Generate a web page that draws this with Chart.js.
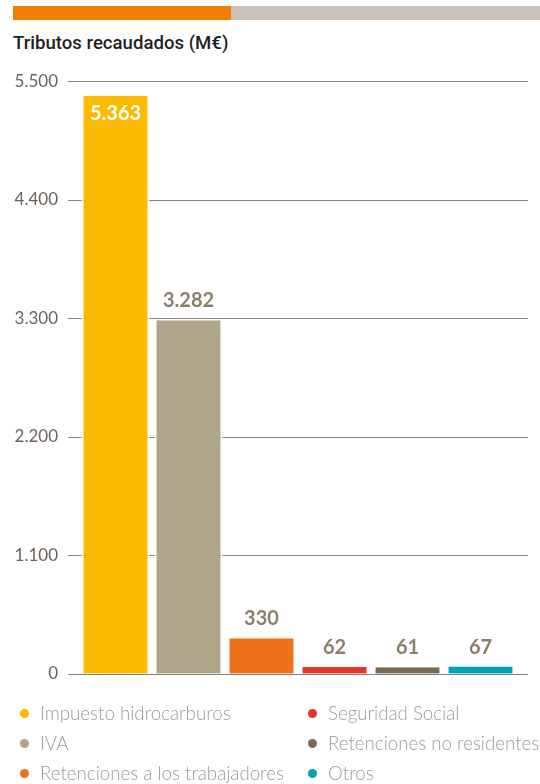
<!DOCTYPE html>
<html>
<head>
<meta charset="utf-8">
<script src="https://cdn.jsdelivr.net/npm/chart.js@4"></script>
<style>
  html, body { margin: 0; padding: 0; background: #fff; }
  body { width: 540px; height: 784px; position: relative; overflow: hidden; font-family: Lato, "Open Sans", sans-serif; }
  .topbar { position: absolute; top: 6px; height: 14px; }
  .title { position: absolute; left: 13px; top: 32px; font: 500 18.6px Roboto, sans-serif; color: #1f1f1f; }
  #wrap { position: absolute; left: 0; top: 50px; width: 540px; height: 655px; }
  .leg { position: absolute; font: 300 18.7px Lato, sans-serif; color: #a39990; white-space: nowrap; line-height: 22px; }
  .leg i { position: absolute; left: -20px; top: 7px; width: 9px; height: 9px; border-radius: 50%; }
</style>
</head>
<body>
<div class="topbar" style="left:13px;width:218px;background:#f07f00"></div>
<div class="topbar" style="left:231px;width:309px;background:#c9c1b9"></div>
<div class="title">Tributos recaudados (M€)</div>
<div id="wrap"><canvas id="chart"></canvas></div>
<div id="legend"></div>
<script>
const categories = ["Impuesto hidrocarburos", "IVA", "Retenciones a los trabajadores", "Seguridad Social", "Retenciones no residentes", "Otros"];
const values = [5363, 3282, 330, 62, 61, 67];
const barColors = ["#fbb900", "#b0a58a", "#ee7219", "#e63323", "#7a6b57", "#00a3b4"];
const Y_MIN = 0;
const Y_MAX = 5500;
const Y_STEP = 1100;

const fmt = (v) => String(v).replace(/\B(?=(\d{3})+(?!\d))/g, ".");

const gridLines = {
  id: "gridLines",
  beforeDatasetsDraw(chart) {
    const { ctx, chartArea, scales } = chart;
    ctx.save();
    ctx.strokeStyle = "#8f8580";
    ctx.lineWidth = 1;
    scales.y.ticks.forEach((t) => {
      const y = Math.round(scales.y.getPixelForValue(t.value)) + 0.5;
      ctx.beginPath();
      ctx.moveTo(chartArea.left - 11, y);
      ctx.lineTo(chartArea.right + 11, y);
      ctx.stroke();
    });
    ctx.restore();
  },
};

const valueLabels = {
  id: "valueLabels",
  afterDatasetsDraw(chart) {
    const { ctx, chartArea } = chart;
    ctx.save();
    ctx.font = "bold 20px Lato, sans-serif";
    ctx.textAlign = "center";
    chart.getDatasetMeta(0).data.forEach((bar, i) => {
      let y = bar.y - 13;
      ctx.fillStyle = "#8b7f6c";
      if (y - 16 < chartArea.top) {
        y = bar.y + 24;
        ctx.fillStyle = "#fff";
      }
      ctx.fillText(fmt(values[i]), bar.x, y);
    });
    ctx.restore();
  },
};

new Chart(document.getElementById("chart"), {
  type: "bar",
  data: {
    labels: categories,
    datasets: [{
      data: values,
      backgroundColor: barColors,
      borderColor: "#fff",
      borderWidth: { left: 2, right: 2, top: 0, bottom: 0 },
      borderSkipped: false,
      categoryPercentage: 1,
      barPercentage: 0.93,
    }],
  },
  options: {
    responsive: true, maintainAspectRatio: false, animation: false,
    layout: { padding: { top: 0, right: 23, bottom: 0, left: 0 } },
    plugins: { legend: { display: false }, tooltip: { enabled: false } },
    scales: {
      x: { display: false },
      y: {
        min: Y_MIN, max: Y_MAX,
        border: { display: false },
        grid: { display: false, drawTicks: false },
        ticks: { stepSize: Y_STEP, padding: 21, color: "#6d625c", font: { family: "Lato", size: 17 }, callback: (v) => fmt(v) },
        afterFit(scale) { scale.width = 79; },
      },
    },
  },
  plugins: [gridLines, valueLabels],
});

const legend = document.getElementById("legend");
const half = Math.ceil(categories.length / 2);
categories.forEach((name, i) => {
  const col = i < half ? 0 : 1;
  const row = i % half;
  const el = document.createElement("div");
  el.className = "leg";
  el.style.left = (col ? 328 : 40) + "px";
  el.style.top = (702 + row * 30) + "px";
  el.innerHTML = `<i style="background:${barColors[i]}"></i>${name}`;
  legend.appendChild(el);
});
</script>
</body>
</html>
